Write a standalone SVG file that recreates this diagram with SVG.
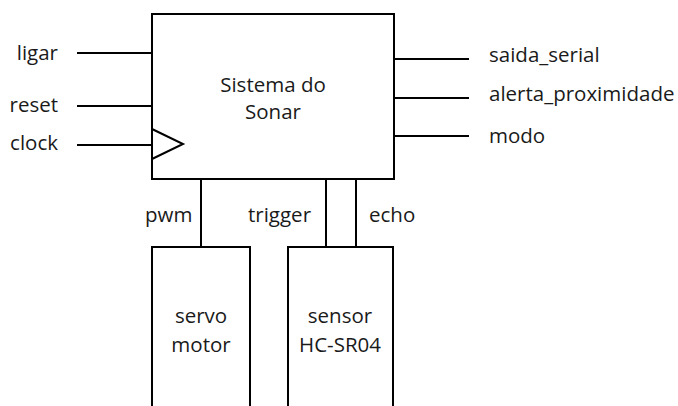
<svg xmlns="http://www.w3.org/2000/svg" width="678" height="406" viewBox="0 0 678 406">
<style>
.box{fill:#fff;stroke:#000;stroke-width:2}
.w{stroke:#000;stroke-width:2;fill:none}
text{font-family:"Open Sans","Liberation Sans",sans-serif;font-size:20.5px;fill:#1a1a1a}
.m{text-anchor:middle}
.e{text-anchor:end}
</style>
<rect width="678" height="406" fill="#fff"/>
<g id="connectors">
<line class="w" x1="77" y1="53" x2="152" y2="53"/>
<line class="w" x1="77" y1="106" x2="152" y2="106"/>
<line class="w" x1="77" y1="145" x2="152" y2="145"/>
<line class="w" x1="394" y1="59" x2="469" y2="59"/>
<line class="w" x1="394" y1="98" x2="469" y2="98"/>
<line class="w" x1="394" y1="136" x2="469" y2="136"/>
<line class="w" x1="201" y1="179" x2="201" y2="247"/>
<line class="w" x1="326" y1="179" x2="326" y2="247"/>
<line class="w" x1="356" y1="179" x2="356" y2="247"/>
</g>
<g id="sistema">
<rect class="box" x="152" y="14" width="242" height="165"/>
<polyline class="w" points="152,129 183,144 152,159"/>
<text class="m" x="273" y="92">Sistema do</text>
<text class="m" x="273" y="119">Sonar</text>
</g>
<g id="labels">
<text class="e" x="58" y="60">ligar</text>
<text class="e" x="58" y="112">reset</text>
<text class="e" x="58" y="150">clock</text>
<text x="489" y="62">saida_serial</text>
<text x="489" y="101">alerta_proximidade</text>
<text x="489" y="143">modo</text>
<text x="145" y="222">pwm</text>
<text x="248" y="222">trigger</text>
<text x="369" y="222">echo</text>
</g>
<g id="servo">
<path class="w" d="M152,410 V247 H250 V410"/>
<text class="m" x="201" y="323">servo</text>
<text class="m" x="201" y="352">motor</text>
</g>
<g id="sensor">
<path class="w" d="M288,410 V247 H393 V410"/>
<text class="m" x="340" y="323">sensor</text>
<text class="m" x="340" y="352">HC-SR04</text>
</g>
</svg>
